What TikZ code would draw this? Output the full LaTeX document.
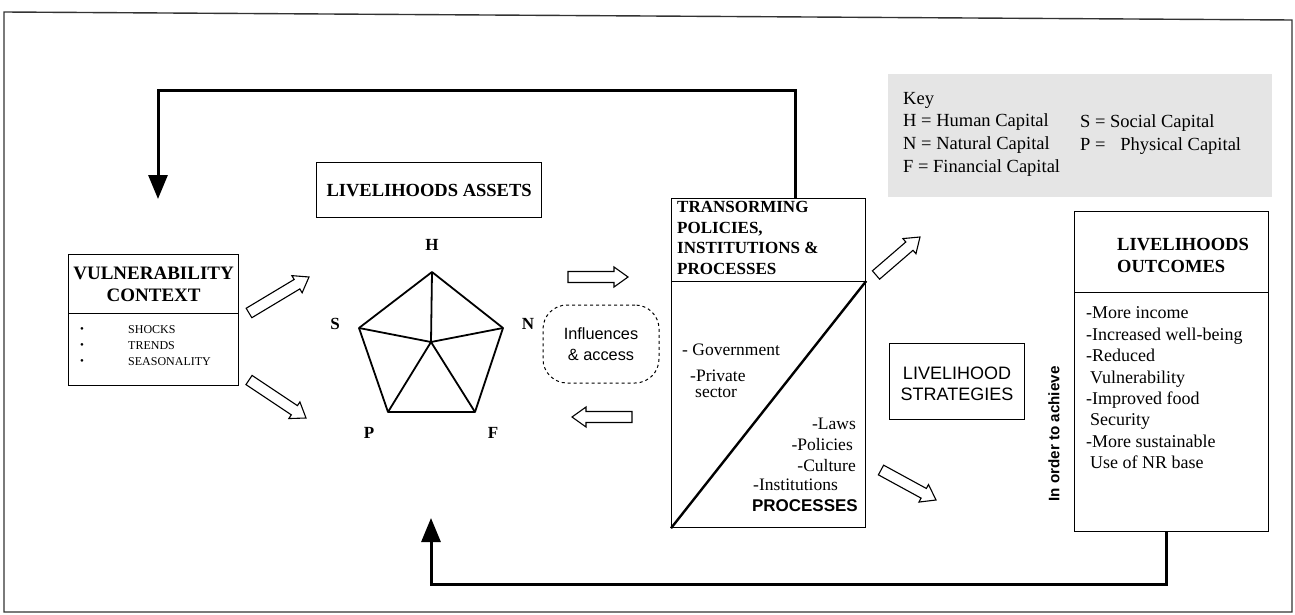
\documentclass[tikz,border=0pt]{standalone}
\usepackage{fontspec}
\setmainfont{Liberation Serif}
\newfontfamily\sansf{Liberation Sans}
\usetikzlibrary{calc,arrows.meta}
\newcommand\blockarr[3]{%
  \coordinate (#3b) at ($(#2)!14pt!(#1)$);
  \draw[blockarrow] ($(#1)!5.5pt!90:(#2)$) -- ($(#3b)!5.5pt!-90:(#1)$) -- ($(#3b)!10pt!-90:(#1)$) -- (#2)
     -- ($(#3b)!10pt!90:(#1)$) -- ($(#3b)!5.5pt!90:(#1)$) -- ($(#1)!5.5pt!-90:(#2)$) -- cycle;}
\begin{document}
\begin{tikzpicture}[x=1pt,y=-1pt,
  box/.style={draw,line width=1.2pt,inner sep=0pt,rectangle,anchor=north west},
  blockarrow/.style={draw,line width=1.1pt,fill=white,line join=miter},
  feedback/.style={line width=3pt,line join=miter,-{Triangle[length=24pt,width=19pt]}},
  pent/.style={line width=1.8pt,line join=round},
  hdr/.style={font=\bfseries\fontsize{19}{22}\selectfont,align=center,inner sep=0pt},
  lbl/.style={font=\bfseries\fontsize{17}{20}\selectfont,inner sep=0pt},
  item/.style={font=\fontsize{12}{14}\selectfont,inner sep=0pt,anchor=west},
  txt/.style={font=\fontsize{17.5}{20}\selectfont,inner sep=0pt},
]
\useasboundingbox (0,0) rectangle (1295,615);
% outer frame
\draw[line width=1.4pt,black!80] (4,12) -- (1292,20) -- (1292,612) -- (4,612) -- cycle;

% Vulnerability context
\node[box,minimum width=170pt,minimum height=59pt] (vtop) at (68,254) {};
\node[box,minimum width=170pt,minimum height=72pt] (vbot) at (68,313) {};
\node[hdr] (vtxt) at (vtop.center) {VULNERABILITY\\CONTEXT};
\node[item] (b1) at (80,330) {\fontsize{11}{11}\selectfont\textbullet};
\node[item] (b2) at (80,346) {\fontsize{11}{11}\selectfont\textbullet};
\node[item] (b3) at (80,362) {\fontsize{11}{11}\selectfont\textbullet};
\node[item] (i1) at (128,330) {SHOCKS};
\node[item] (i2) at (128,346) {TRENDS};
\node[item] (i3) at (128,362) {SEASONALITY};

% Livelihood assets
\node[box,minimum width=225pt,minimum height=55pt] (assets) at (316,162) {};
\node[hdr,font=\bfseries\fontsize{18.5}{22}\selectfont] (assetstxt) at (assets.center) {LIVELIHOODS ASSETS};

% pentagon
\coordinate (H) at (432,272);
\coordinate (S) at (359,328);
\coordinate (N) at (503,328);
\coordinate (P) at (388,412);
\coordinate (F) at (475,412);
\coordinate (C) at (431,342);
\draw[pent] (H) -- (N) -- (F) -- (P) -- (S) -- cycle;
\draw[pent] (C) -- (H) (C) -- (S) (C) -- (N) (C) -- (P) (C) -- (F);
\node[lbl] (hl) at (432,245) {H};
\node[lbl] (sl) at (335,324) {S};
\node[lbl] (nl) at (528,324) {N};
\node[lbl] (pl) at (369,433) {P};
\node[lbl] (fl) at (493,433) {F};

% Influences & access
\node[draw,dashed,line width=1pt,rounded corners=24pt,minimum width=116pt,minimum height=78pt,
      align=center,font=\sansf\fontsize{16.3}{21}\selectfont] (infl) at (601,344) {Influences\\\& access};

% Transforming structures
\node[box,minimum width=194pt,minimum height=83pt] (ttop) at (671,198) {};
\node[box,minimum width=194pt,minimum height=246pt] (tbot) at (671,281) {};
\node[font=\bfseries\fontsize{17}{20.4}\selectfont,align=left,inner sep=0pt,anchor=west] (ttxt) at (677,238)
  {TRANSORMING\\POLICIES,\\INSTITUTIONS \&\\PROCESSES};
\draw[line width=2.4pt] (tbot.south west) -- (tbot.north east);
\node[txt,anchor=west] (gov) at (682,350) {- Government};
\node[inner sep=0pt,anchor=west,align=left,font=\fontsize{17.5}{16.5}\selectfont] (priv) at (690,384) {-Private\\\hspace{5pt}sector};
\node[txt,anchor=east] (laws) at (856,424) {-Laws};
\node[txt,anchor=east] (pol) at (853,445) {-Policies};
\node[txt,anchor=east] (cult) at (856,466) {-Culture};
\node[txt,anchor=east] (inst) at (838,485) {-Institutions};
\node[inner sep=0pt,anchor=east,font=\sansf\bfseries\fontsize{17}{20}\selectfont] (proc) at (858,506) {PROCESSES};

% Key
\node[fill=black!10,minimum width=384pt,minimum height=123pt,inner sep=0pt,anchor=north west] (key) at (888,74) {};
\node[inner sep=0pt,anchor=west,align=left,font=\fontsize{18.5}{22.7}\selectfont] (key1) at (903,134)
  {Key\\H = Human Capital\\N = Natural Capital\\F = Financial Capital};
\node[inner sep=0pt,anchor=west,align=left,font=\fontsize{18.5}{22.7}\selectfont] (key2) at (1080,134.5)
  {S = Social Capital\\P =\hspace{0.55em} Physical Capital};

% Livelihood strategies
\node[box,minimum width=135pt,minimum height=76pt] (strat) at (889,343) {};
\node[inner sep=0pt,align=center,font=\sansf\fontsize{18}{21}\selectfont] (strattxt) at (957,384) {LIVELIHOOD\\STRATEGIES};

% In order to achieve
\node[rotate=90,inner sep=0pt,font=\sansf\bfseries\fontsize{15.2}{18}\selectfont] (order) at (1054,434) {In order to achieve};

% Livelihood outcomes
\node[box,minimum width=194pt,minimum height=81pt] (otop) at (1074,211) {};
\node[box,minimum width=194pt,minimum height=239pt] (obot) at (1074,292) {};
\node[inner sep=0pt,anchor=west,align=left,font=\bfseries\fontsize{18.5}{22}\selectfont] (otxt) at (1117,255)
  {LIVELIHOODS\\OUTCOMES};
\node[inner sep=0pt,anchor=west,align=left,font=\fontsize{18}{21.4}\selectfont] (olist) at (1086,388)
  {-More income\\-Increased well-being\\-Reduced\\\hspace{4pt}Vulnerability\\-Improved food\\\hspace{4pt}Security\\-More sustainable\\\hspace{4pt}Use of NR base};

% block arrows
\coordinate (a1s) at (249,313); \coordinate (a1e) at (309,277);
\coordinate (a2s) at (249,380); \coordinate (a2e) at (306,418);
\coordinate (a3s) at (568,277); \coordinate (a3e) at (628,277);
\coordinate (a4s) at (632,417); \coordinate (a4e) at (572,417);
\coordinate (a5s) at (876,275); \coordinate (a5e) at (920,237);
\coordinate (a6s) at (881,470); \coordinate (a6e) at (936,500);
\blockarr{a1s}{a1e}{ba1}
\blockarr{a2s}{a2e}{ba2}
\blockarr{a3s}{a3e}{ba3}
\blockarr{a4s}{a4e}{ba4}
\blockarr{a5s}{a5e}{ba5}
\blockarr{a6s}{a6e}{ba6}

% feedback loops
\coordinate (topstart) at ($(ttop.north west)!0.639!(ttop.north east)$);
\coordinate (vtip) at (158,199);
\draw[feedback] (topstart) -- (topstart |- 0,91) -- (vtip |- 0,91) -- (vtip);
\coordinate (botstart) at ($(obot.south west)!0.474!(obot.south east)$);
\coordinate (atip) at (431,518);
\draw[feedback] (botstart) -- (botstart |- 0,584) -- (atip |- 0,584) -- (atip);
\end{tikzpicture}
\end{document}
